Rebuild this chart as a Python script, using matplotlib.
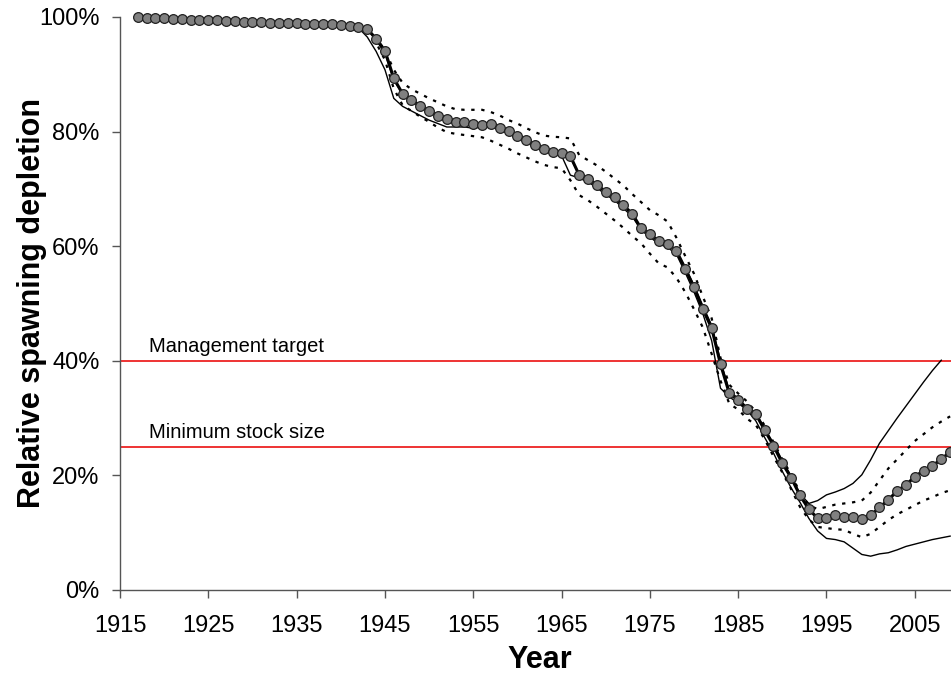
import matplotlib
matplotlib.use('Agg')
import matplotlib.pyplot as plt
from matplotlib.ticker import FuncFormatter

plt.rcParams['font.family'] = ['Liberation Sans', 'DejaVu Sans']

# years 1917-1941: all runs identical
early = [100.0, 99.9, 99.8, 99.8, 99.7, 99.6, 99.5, 99.5, 99.4, 99.4,
         99.3, 99.3, 99.2, 99.1, 99.1, 99.0, 99.0, 98.9, 98.9, 98.8,
         98.8, 98.7, 98.7, 98.6, 98.5]

# 1942-2009
base = [98.3, 97.9, 96.2, 94.1, 89.3, 86.6, 85.5, 84.5, 83.6, 82.8,
        82.2, 81.7, 81.7, 81.3, 81.2, 81.4, 80.7, 80.1, 79.3, 78.5,
        77.7, 76.9, 76.5, 76.2, 75.7, 72.4, 71.7, 70.7, 69.5, 68.5,
        67.1, 65.7, 63.1, 62.1, 60.9, 60.4, 59.2, 56.1, 52.8, 49.0,
        45.7, 39.4, 34.3, 33.2, 31.5, 30.7, 27.9, 25.2, 22.1, 19.6,
        16.5, 14.1, 12.5, 12.5, 13.0, 12.7, 12.7, 12.4, 13.0, 14.4,
        15.7, 17.3, 18.3, 19.8, 20.8, 21.6, 22.9, 24.0]

alt_low = [98.1, 96.5, 94.0, 90.8, 85.8, 84.4, 83.6, 82.8, 82.0, 81.4,
           80.8, 80.8, 80.8, 80.6, 80.8, 80.9, 80.3, 79.6, 78.9, 78.1,
           77.3, 76.6, 76.1, 75.8, 72.4, 71.9, 71.2, 70.2, 69.0, 68.0,
           66.6, 65.2, 62.8, 61.6, 60.4, 59.8, 58.6, 55.4, 52.0, 48.2,
           43.5, 35.2, 33.7, 32.6, 31.4, 29.5, 26.6, 23.9, 20.7, 17.8,
           15.3, 12.5, 10.3, 9.0, 8.8, 8.4, 7.3, 6.2, 5.9, 6.3,
           6.5, 7.0, 7.6, 8.0, 8.4, 8.8, 9.1, 9.4]

# 1942-2008
alt_high = [98.3, 97.8, 96.0, 93.6, 89.0, 86.5, 85.3, 84.3, 83.4, 82.6,
            82.0, 81.5, 81.5, 81.2, 81.1, 81.2, 80.6, 80.0, 79.2, 78.4,
            77.6, 76.8, 76.4, 76.1, 75.4, 72.5, 71.6, 70.6, 69.4, 68.4,
            67.0, 65.6, 63.2, 62.0, 60.8, 60.2, 59.0, 56.3, 53.2, 49.6,
            46.2, 40.0, 34.8, 33.4, 31.9, 30.9, 28.2, 25.6, 22.6, 19.9,
            16.8, 15.1, 15.6, 16.6, 17.1, 17.7, 18.6, 20.1, 22.7, 25.6,
            27.8, 30.0, 32.1, 34.2, 36.3, 38.3, 40.1]

ci_upper = [98.3, 97.8, 96.3, 94.2, 90.8, 88.5, 87.4, 86.6, 85.8, 85.1,
            84.4, 83.9, 83.8, 83.8, 83.8, 83.4, 82.8, 82.0, 81.4, 80.6,
            79.9, 79.3, 79.1, 79.0, 78.8, 75.9, 75.0, 74.1, 73.0, 71.8,
            70.6, 69.1, 67.7, 66.3, 65.4, 64.3, 61.5, 58.3, 55.2, 51.2,
            47.4, 40.5, 35.8, 34.3, 32.9, 31.1, 28.7, 25.8, 22.8, 20.2,
            17.0, 14.8, 14.1, 14.5, 14.9, 15.1, 15.3, 15.6, 17.0, 19.1,
            21.2, 22.8, 24.4, 26.0, 27.2, 28.4, 29.4, 30.3]

ci_lower = [98.3, 97.6, 95.5, 92.5, 87.5, 84.6, 83.6, 82.6, 81.7, 80.7,
            79.9, 79.6, 79.4, 79.2, 79.0, 78.4, 77.7, 77.0, 76.2, 75.5,
            74.8, 74.2, 73.8, 73.6, 71.5, 68.9, 68.0, 66.9, 65.7, 64.5,
            63.2, 61.8, 60.5, 58.7, 57.0, 56.3, 54.5, 52.0, 49.0, 45.8,
            41.2, 36.5, 32.5, 31.5, 29.9, 28.8, 26.3, 23.3, 20.5, 17.6,
            14.5, 12.3, 11.0, 10.8, 10.6, 10.5, 9.8, 9.2, 9.8, 11.0,
            12.2, 13.2, 14.0, 14.8, 15.6, 16.2, 16.9, 17.4]

years = list(range(1917, 2010))
target = 40
minimum = 25

fig = plt.figure(figsize=(9.51, 6.79), dpi=100)
ax = fig.add_axes([0.1262, 0.1311, 0.8738, 0.8439])

ax.plot(years, early + ci_upper, color='black', lw=1.6, ls=(0, (1.5, 3)), zorder=2)
ax.plot(years, early + ci_lower, color='black', lw=1.6, ls=(0, (1.5, 3)), zorder=2)
ax.plot(years[:len(early) + len(alt_high)], early + alt_high, color='black', lw=1.0, zorder=2)
ax.plot(years, early + alt_low, color='black', lw=1.0, zorder=2)
ax.plot(years, early + base, color='black', lw=2.2, marker='o', ms=7,
        mfc='#808080', mec='#222222', mew=0.9, zorder=3, clip_on=False)

ax.axhline(target, color='#ee3333', lw=1.4, zorder=1)
ax.axhline(minimum, color='#ee3333', lw=1.4, zorder=1)
ax.text(1918.3, target + 1.45, 'Management target', fontsize=14.5, va='baseline')
ax.text(1918.3, minimum + 1.55, 'Minimum stock size', fontsize=14.5, va='baseline')

ax.set_xlim(1915, 2009.1)
ax.set_ylim(0, 100)
ax.set_xticks(range(1915, 2010, 10))
ax.set_yticks(range(0, 101, 20))
ax.yaxis.set_major_formatter(FuncFormatter(lambda v, p: '%d%%' % v))
ax.tick_params(labelsize=17, length=5.8, width=1, color='#555555', direction='out')
ax.tick_params(axis='y', pad=9)
ax.tick_params(axis='x', pad=12)

for s in ['top', 'right']:
    ax.spines[s].set_visible(False)
for s in ['left', 'bottom']:
    ax.spines[s].set_color('#555555')
    ax.spines[s].set_linewidth(1)

ax.set_xlabel('Year', fontsize=22, fontweight='bold')
ax.set_ylabel('Relative spawning depletion', fontsize=22, fontweight='bold')
ax.xaxis.set_label_coords(0.5047, -0.096)
ax.yaxis.set_label_coords(-0.088, 0.5)

fig.savefig('out.png', dpi=100)
